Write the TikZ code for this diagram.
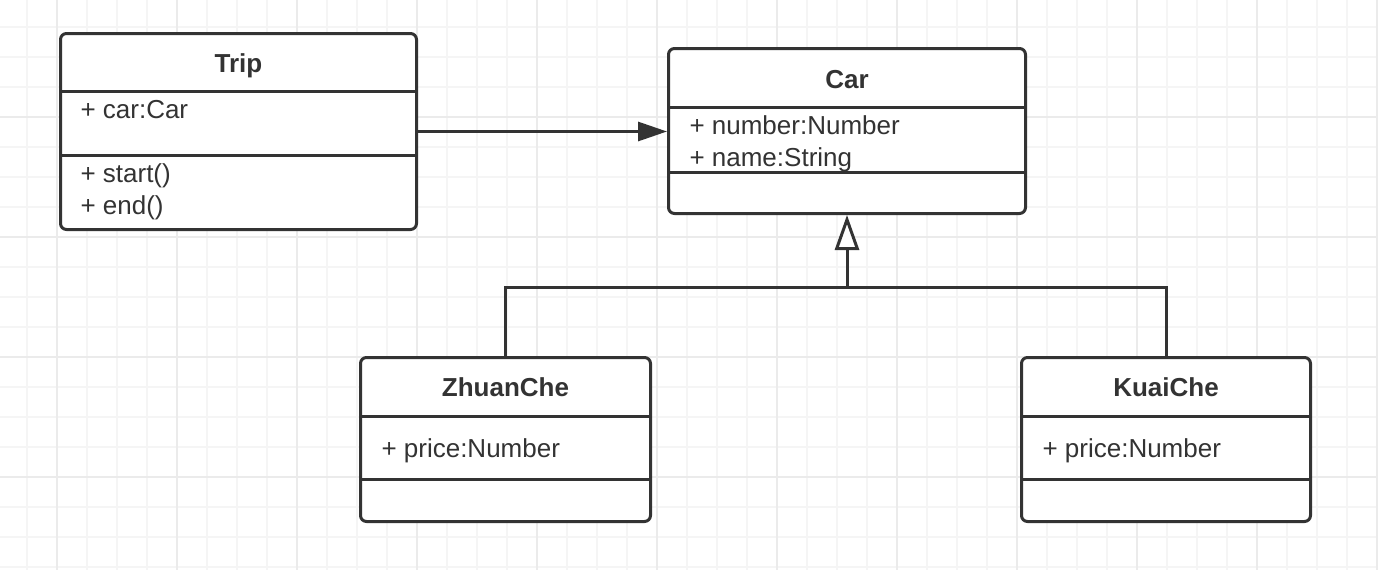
\documentclass[tikz,border=0pt]{standalone}
\usepackage{fontspec}
\setmainfont{Liberation Sans}
\usetikzlibrary{arrows.meta}
\definecolor{ink}{HTML}{333333}
\definecolor{gridminor}{HTML}{F5F5F5}
\definecolor{gridmajor}{HTML}{EBEBEB}
\tikzset{
  classbox/.style={draw=ink, line width=3pt, rounded corners=6pt, fill=white,
    inner sep=0pt, anchor=north west},
  title/.style={anchor=base, text=ink, font=\fontsize{26}{30}\selectfont\bfseries},
  member/.style={anchor=base west, text=ink, font=\fontsize{26}{30}\selectfont},
  sepline/.style={draw=ink, line width=3pt},
  link/.style={draw=ink, line width=3pt},
}

\begin{document}
\begin{tikzpicture}[x=1pt, y=-1pt]
  \useasboundingbox (0,0) rectangle (1378,570);
  \fill[white] (0,0) rectangle (1378,570);

  % Background grid
  \foreach \x in {27,57,...,1377} \draw[gridminor, line width=1.3pt] (\x,0) -- (\x,570);
  \foreach \y in {27,57,...,567} \draw[gridminor, line width=1.3pt] (0,\y) -- (1378,\y);
  \foreach \x in {57,177,...,1377} \draw[gridmajor, line width=1.3pt] (\x,0) -- (\x,570);
  \foreach \y in {117,237,...,477} \draw[gridmajor, line width=1.3pt] (0,\y) -- (1378,\y);

  % Class boxes
  \node[classbox, minimum width=356, minimum height=196] (trip) at (59,32) {};
  \node[classbox, minimum width=357, minimum height=165] (car) at (667,47) {};
  \node[classbox, minimum width=290, minimum height=164] (zhuan) at (359,356) {};
  \node[classbox, minimum width=289, minimum height=164] (kuai) at (1020,356) {};

  % Compartment lines
  \draw[sepline] (60.5,91) -- (416.5,91);
  \draw[sepline] (60.5,155) -- (416.5,155);
  \draw[sepline] (668.5,107) -- (1025.5,107);
  \draw[sepline] (668.5,172) -- (1025.5,172);
  \draw[sepline] (360.5,416) -- (650.5,416);
  \draw[sepline] (360.5,479) -- (650.5,479);
  \draw[sepline] (1021.5,416) -- (1310.5,416);
  \draw[sepline] (1021.5,479) -- (1310.5,479);

  % Titles
  \node[title] (triptitle) at (trip.north |- 0,72) {Trip};
  \node[title] (cartitle) at (car.north |- 0,88) {Car};
  \node[title] (zhuantitle) at (zhuan.north |- 0,396) {ZhuanChe};
  \node[title] (kuaititle) at (kuai.north |- 0,396) {KuaiChe};

  % Members
  \node[member] (tripcar) at (77,118) {+ car:Car};
  \node[member] (tripstart) at (77,182) {+ start()};
  \node[member] (tripend) at (77,214) {+ end()};
  \node[member] (carnumber) at (686,134) {+ number:Number};
  \node[member] (carname) at (686,166) {+ name:String};
  \node[member] (zhuanprice) at (378,457) {+ price:Number};
  \node[member] (kuaiprice) at (1039,457) {+ price:Number};

  % Association
  \draw[link, -{Triangle[length=29pt, width=19pt]}] (trip.east) -- (trip.east -| car.west);

  % Generalization
  \coordinate (fork) at (car.south |- 0,287);
  \draw[link] (zhuan.north) |- (fork) -| (kuai.north);
  \draw[link, -{Triangle[open, length=35pt, width=24pt, fill=white]}] (fork) -- (car.south);
\end{tikzpicture}
\end{document}
